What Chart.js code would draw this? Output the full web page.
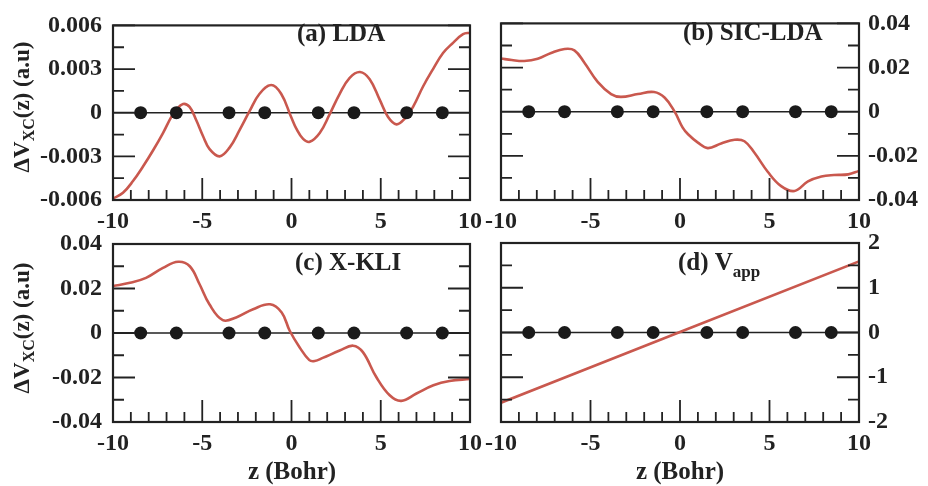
<!DOCTYPE html>
<html>
<head>
<meta charset="utf-8">
<script src="https://cdn.jsdelivr.net/npm/chart.js@4.4.1/dist/chart.umd.min.js"></script>
<style>
    body { margin: 0; background: #fff; }
    #wrap { position: relative; width: 928px; height: 486px; }
    canvas { position: absolute; left: 0; top: 0; }
</style>
</head>
<body>
<div id="wrap">
    <canvas id="panel-a" width="928" height="486"></canvas>
    <canvas id="panel-b" width="928" height="486"></canvas>
    <canvas id="panel-c" width="928" height="486"></canvas>
    <canvas id="panel-d" width="928" height="486"></canvas>
</div>
<script>
// atom positions along z (dots on the zero line)
const atomZ = [-8.45, -6.45, -3.5, -1.5, 1.5, 3.5, 6.45, 8.45];

// x axis ticks
const xTicks = [-10, -5, 0, 5, 10];
const xMinorTicks = [-9, -8, -7, -6, -4, -3, -2, -1, 1, 2, 3, 4, 6, 7, 8, 9];

// (a) LDA
const ldaZ = [-10, -9.44, -8.88, -8.32, -7.76, -7.2, -6.74, -6.46, -6.08, -5.71, -5.34, -4.96, -4.59, -4.03,
    -3.47, -2.91, -2.35, -1.79, -1.14, -0.58, -0.02, 0.27, 0.65, 1.02, 1.58, 2.14, 2.7, 3.26, 3.84, 4.38, 4.94,
    5.41, 5.88, 6.35, 6.81, 7.37, 7.93, 8.49, 9.05, 9.61, 10];
const ldaV = [-0.0059, -0.0055, -0.0047, -0.0037, -0.0026, -0.0014, -0.0003, 0.0002, 0.0006, 0.0004, -0.0005,
    -0.0016, -0.0025, -0.0030, -0.0024, -0.0012, 0.0001, 0.0013, 0.0019, 0.0013, -0.0003, -0.0011, -0.0018,
    -0.0020, -0.0014, -0.0001, 0.0013, 0.0024, 0.0028, 0.0023, 0.0009, -0.0003, -0.0008, -0.0004, 0.0004, 0.0018,
    0.0030, 0.0041, 0.0048, 0.0054, 0.0055];
const ldaYTicks = [-0.006, -0.003, 0, 0.003, 0.006];
const ldaYLabels = ['-0.006', '-0.003', '0', '0.003', '0.006'];

// (b) SIC-LDA
const sicZ = [-10, -9.4, -8.7, -7.95, -7.2, -6.45, -5.9, -5.35, -4.6, -3.85, -3.3, -2.35, -1.45, -0.85, -0.3, 0.15,
    0.45, 1.0, 1.55, 2.3, 3.05, 3.6, 4.15, 4.9, 5.65, 6.4, 7.15, 7.9, 8.6, 9.4, 10];
const sicV = [0.0241, 0.0234, 0.0230, 0.0240, 0.0266, 0.0284, 0.0278, 0.0223, 0.0135, 0.0080, 0.0067, 0.0080,
    0.0089, 0.0063, 0.0, -0.0072, -0.0102, -0.0140, -0.0165, -0.0144, -0.0127, -0.0134, -0.0185, -0.0272, -0.0337,
    -0.0359, -0.0316, -0.0294, -0.0287, -0.0284, -0.0268];
const sicYTicks = [-0.04, -0.02, 0, 0.02, 0.04];
const sicYLabels = ['-0.04', '-0.02', '0', '0.02', '0.04'];

// (c) X-KLI
const kliZ = [-10, -9.05, -8.15, -7.2, -6.35, -5.7, -5.15, -4.6, -3.85, -3.1, -2.15, -1.2, -0.55, -0.1, 0.45, 1.0,
    1.3, 1.75, 2.7, 3.45, 4.0, 4.75, 5.5, 6.15, 7.0, 7.95, 8.85, 10];
const kliV = [0.0211, 0.0226, 0.0248, 0.0293, 0.0320, 0.0300, 0.0219, 0.0129, 0.0058, 0.0070, 0.0107, 0.0129,
    0.0092, 0.0010, -0.0064, -0.0122, -0.0126, -0.0112, -0.0079, -0.0057, -0.0086, -0.0198, -0.0280, -0.0305,
    -0.0272, -0.0235, -0.0216, -0.0207];
const kliYTicks = [-0.04, -0.02, 0, 0.02, 0.04];
const kliYLabels = ['-0.04', '-0.02', '0', '0.02', '0.04'];

// (d) V_app
const appZ = [-10, 10];
const appV = [-1.57, 1.59];
const appYTicks = [-2, -1, 0, 1, 2];
const appYLabels = ['-2', '-1', '0', '1', '2'];

const serif = "'Liberation Serif', 'Times New Roman', serif";
const ink = '#222';
const red = '#c9584e';

function drawRuns(ctx, runs, x, y, align, size) {
    // runs: [{t, sub}] drawn along the current baseline
    const subSize = Math.round(size * 0.68);
    const measure = (r) => {
        ctx.font = 'bold ' + (r.sub ? subSize : size) + 'px ' + serif;
        return ctx.measureText(r.t).width;
    };
    let total = 0;
    runs.forEach(r => total += measure(r));
    let cx = align === 'center' ? x - total / 2 : x;
    runs.forEach(r => {
        const w = measure(r);
        ctx.fillText(r.t, cx, y + (r.sub ? size * 0.28 : 0));
        cx += w;
    });
}

const framePlugin = {
    id: 'frame',
    afterDatasetsDraw(chart, args, opts) {
        const {ctx, chartArea: a, scales: {x, y}} = chart;
        ctx.save();
        ctx.strokeStyle = ink;
        ctx.lineWidth = 1.8;
        ctx.beginPath();
        xTicks.forEach(v => {
            const px = x.getPixelForValue(v);
            ctx.moveTo(px, a.bottom);
            ctx.lineTo(px, a.bottom - 22);
        });
        xMinorTicks.forEach(v => {
            const px = x.getPixelForValue(v);
            ctx.moveTo(px, a.bottom);
            ctx.lineTo(px, a.bottom - 10);
        });
        const yt = opts.yTicks;
        for (let i = 0; i < yt.length; i++) {
            const py = y.getPixelForValue(yt[i]);
            ctx.moveTo(a.left, py);
            ctx.lineTo(a.left + 22, py);
            ctx.moveTo(a.right, py);
            ctx.lineTo(a.right - 22, py);
            if (i < yt.length - 1) {
                const pm = y.getPixelForValue((yt[i] + yt[i + 1]) / 2);
                ctx.moveTo(a.left, pm);
                ctx.lineTo(a.left + 11, pm);
                ctx.moveTo(a.right, pm);
                ctx.lineTo(a.right - 11, pm);
            }
        }
        ctx.stroke();
        ctx.lineWidth = 2.2;
        ctx.strokeRect(a.left, a.top, a.width, a.height);

        ctx.fillStyle = ink;
        ctx.textBaseline = 'alphabetic';
        ctx.textAlign = 'left';
        drawRuns(ctx, opts.title, opts.titleX, opts.titleY, 'left', 25);
        drawRuns(ctx, [{t: 'z (Bohr)'}], opts.xTitleX, 479, 'center', 25);
        if (opts.yTitle) {
            ctx.translate(opts.yTitleX, opts.yTitleY);
            ctx.rotate(-Math.PI / 2);
            ctx.textBaseline = 'middle';
            drawRuns(ctx, [{t: '\u0394V'}, {t: 'XC', sub: true}, {t: '(z) (a.u)'}], 0, 0, 'center', 23);
        }
        ctx.restore();
    }
};

function makePanel(id, zs, vs, yTicks, yLabels, side, area, text) {
    const curve = zs.map((z, i) => ({x: z, y: vs[i]}));
    const yWidth = side === 'left' ? 100 : 62;
    const padding = {
        top: area.top,
        bottom: 486 - area.bottom - 40,
        left: side === 'left' ? area.left - yWidth : area.left,
        right: side === 'left' ? 928 - area.right : 928 - area.right - yWidth,
    };
    return new Chart(document.getElementById(id), {
        type: 'line',
        data: {
            datasets: [
                {
                    data: atomZ.map(z => ({x: z, y: 0})),
                    showLine: false,
                    pointRadius: 6.5,
                    pointBackgroundColor: '#1a1a1a',
                    pointBorderWidth: 0,
                },
                {
                    data: curve,
                    borderColor: red,
                    borderWidth: 2.6,
                    pointRadius: 0,
                    tension: 0.4,
                },
                {
                    data: [{x: -10, y: 0}, {x: 10, y: 0}],
                    borderColor: ink,
                    borderWidth: 1.6,
                    pointRadius: 0,
                },
            ]
        },
        options: {
            responsive: false,
            animation: false,
            events: [],
            layout: {padding: padding, autoPadding: false},
            plugins: {
                legend: {display: false},
                tooltip: {enabled: false},
                frame: Object.assign({yTicks: yTicks}, text),
            },
            scales: {
                x: {
                    type: 'linear',
                    min: -10,
                    max: 10,
                    grid: {display: false, drawTicks: false},
                    border: {display: false},
                    afterBuildTicks: (s) => {
                        s.ticks = xTicks.map(v => ({value: v}));
                    },
                    afterFit: (s) => {
                        s.height = 40;
                    },
                    ticks: {
                        font: {family: serif, size: 24, weight: 'bold'},
                        color: ink,
                        padding: 7,
                        maxRotation: 0,
                        autoSkip: false,
                        callback: (v) => String(v),
                    },
                },
                y: {
                    type: 'linear',
                    position: side,
                    min: yTicks[0],
                    max: yTicks[yTicks.length - 1],
                    grid: {display: false, drawTicks: false},
                    border: {display: false},
                    afterBuildTicks: (s) => {
                        s.ticks = yTicks.map(v => ({value: v}));
                    },
                    afterFit: (s) => {
                        s.width = yWidth;
                    },
                    ticks: {
                        font: {family: serif, size: 24, weight: 'bold'},
                        color: ink,
                        padding: side === 'left' ? 11 : 9,
                        autoSkip: false,
                        callback: (v, i) => yLabels[i],
                    },
                },
            },
        },
        plugins: [framePlugin],
    });
}

makePanel('panel-a', ldaZ, ldaV, ldaYTicks, ldaYLabels, 'left',
    {left: 113, right: 470, top: 17, bottom: 200},
    {title: [{t: '(a) LDA'}], titleX: 297, titleY: 41, xTitleX: -200, yTitle: true, yTitleX: 23, yTitleY: 107});

makePanel('panel-b', sicZ, sicV, sicYTicks, sicYLabels, 'right',
    {left: 501, right: 859, top: 16, bottom: 200},
    {title: [{t: '(b) SIC-LDA'}], titleX: 683, titleY: 40, xTitleX: -200});

makePanel('panel-c', kliZ, kliV, kliYTicks, kliYLabels, 'left',
    {left: 113, right: 470, top: 244, bottom: 422},
    {title: [{t: '(c) X-KLI'}], titleX: 295, titleY: 270, xTitleX: 292, yTitle: true, yTitleX: 23, yTitleY: 328});

makePanel('panel-d', appZ, appV, appYTicks, appYLabels, 'right',
    {left: 501, right: 859, top: 243, bottom: 422},
    {title: [{t: '(d) V'}, {t: 'app', sub: true}], titleX: 678, titleY: 270, xTitleX: 680});
</script>
</body>
</html>
